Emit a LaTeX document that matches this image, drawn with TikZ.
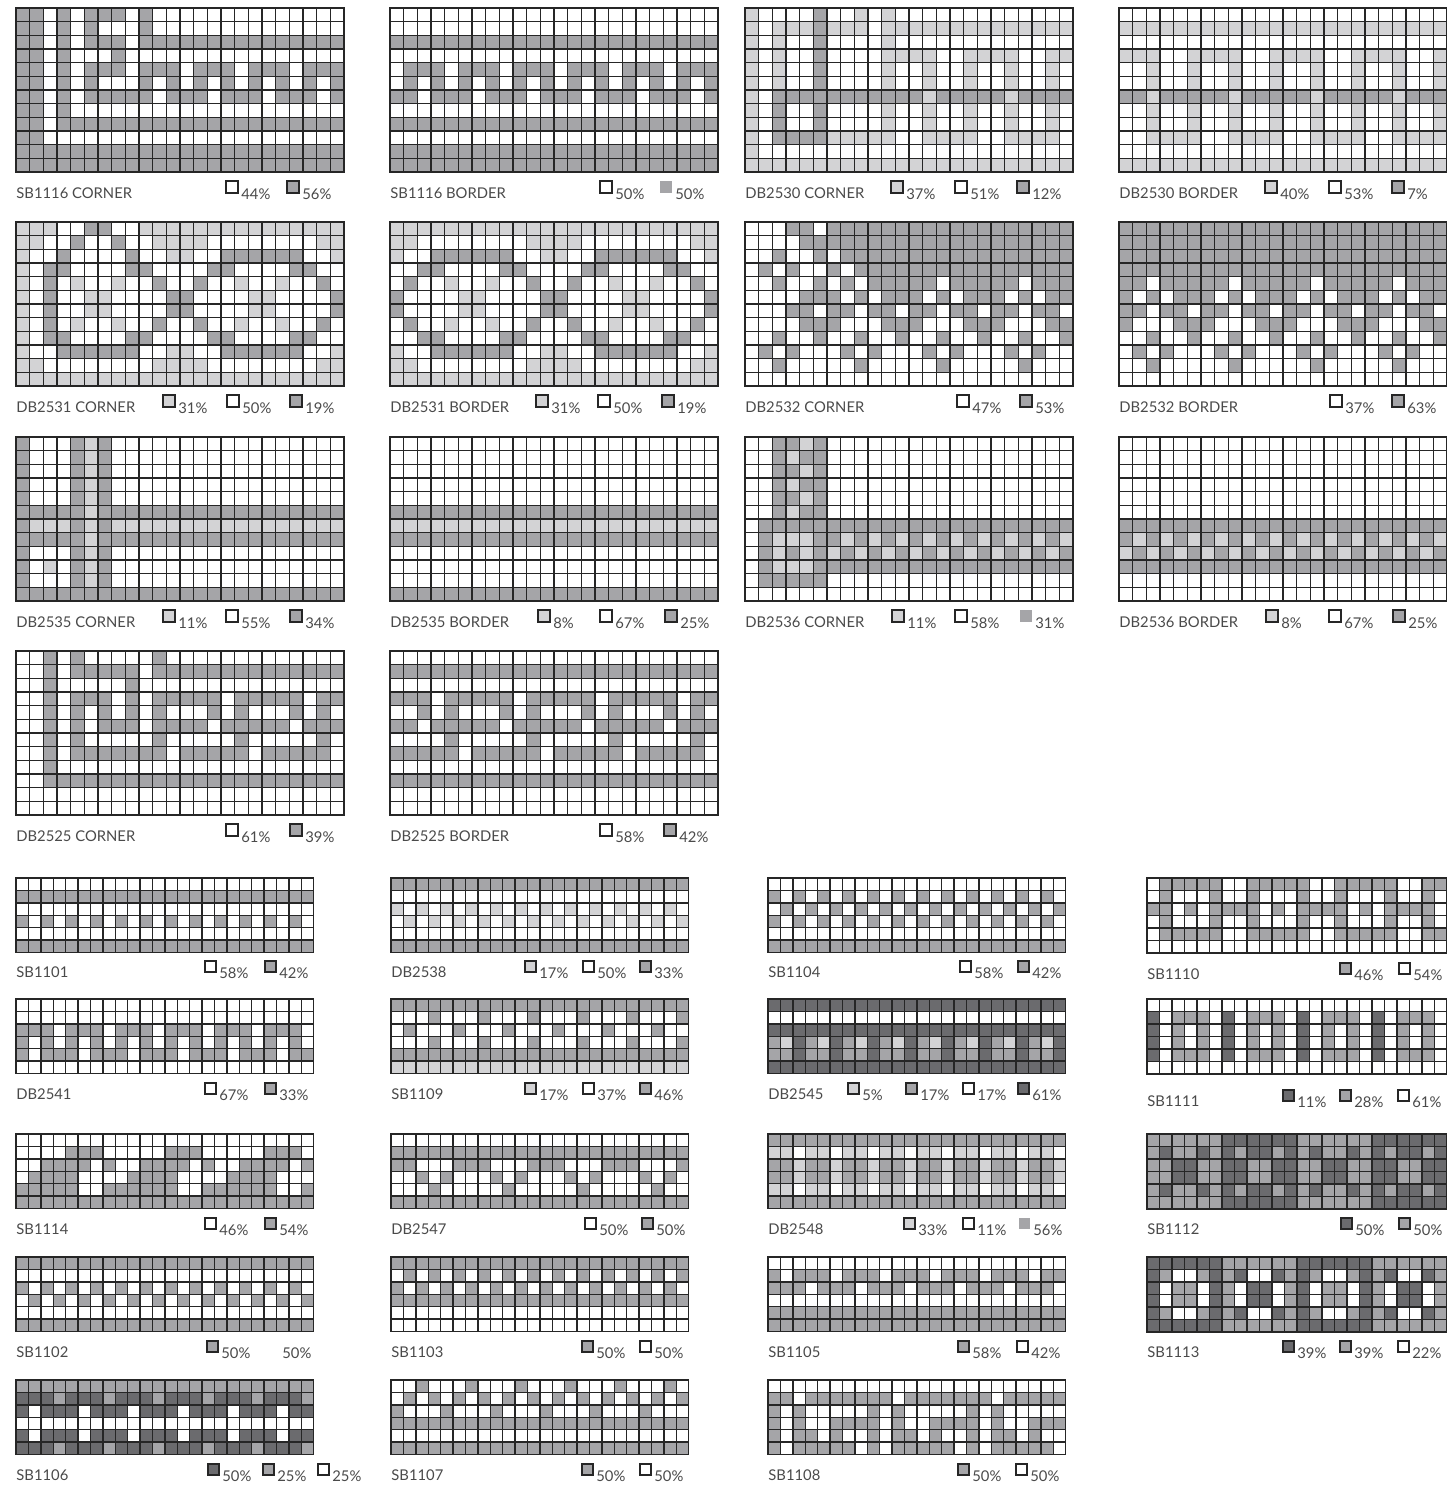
\documentclass[tikz,border=0pt]{standalone}
\usepackage{fontspec}
\setmainfont{Lato}
\definecolor{c0}{HTML}{FFFFFF}
\definecolor{c1}{HTML}{D3D3D5}
\definecolor{c2}{HTML}{A5A5A8}
\definecolor{c3}{HTML}{6B6B6E}
\definecolor{gline}{HTML}{262626}
\definecolor{txt}{HTML}{4A4A4A}
\newcount\gcol
\newcount\grow
\newcount\pcnt
\def\allW{000000000000000000000000}
\def\allL{111111111111111111111111}
\def\allM{222222222222222222222222}
\def\allD{333333333333333333333333}
\def\gparse#1{\ifx#1\relax\else
  \filldraw[cell,fill=c#1] ({\gx+\the\gcol*\gcs},{\gy+\the\grow*\gcs}) rectangle ++(\gcs,\gcs);%
  \global\advance\gcol by 1\relax
  \expandafter\gparse\fi}
\newcommand\pgrid[4]{\def\gx{#1}\def\gy{#2}\def\gcs{#3}\global\grow=0\relax
  \foreach \rr in {#4}{\global\gcol=0\relax\edef\rrx{\rr}\expandafter\gparse\rrx\relax\global\advance\grow by 1\relax}}
\newcommand\leg[6][]{\global\advance\pcnt by 1\relax
  \filldraw[lbox,fill=c#4,#1] (#2,#3-5) rectangle ++(#6,-#6);
  \node[pct] (p\the\pcnt) at (#2+#6+3,#3+1) {#5};}
\begin{document}
\begin{tikzpicture}[x=0.5pt,y=-0.5pt,
  cell/.style={draw=gline,line width=0.7pt},
  lbox/.style={draw=gline,line width=0.6pt},
  lab/.style={anchor=base west,inner sep=0pt,text=txt,font=\fontsize{7.4}{8}\selectfont},
  pct/.style={anchor=base west,inner sep=0pt,text=txt,font=\fontsize{7.4}{8}\selectfont}]
\useasboundingbox[fill=white] (0,0) rectangle (1447,1485);
% ---------------- row 1
\pgrid{16}{8}{13.667}{220202220200000000000000,220202000200000000000000,220202220222222222222222,220200020000000000000000,220202220222022202220222,220202000202020202020202,220202222202220222022202,220200000000000000000000,220222222222222222222222,220000000000000000000000,\allM,\allM}
\node[lab] (t1) at (16,198) {SB1116 CORNER};
\leg{226}{198}{0}{44\%}{12}\leg{287}{198}{2}{56\%}{12}
\pgrid{390}{8}{13.667}{\allW,\allW,\allM,\allW,022202220222022202220222,020202020202020202020202,220222022202220222022202,\allW,\allM,\allW,\allM,\allM}
\node[lab] (t2) at (390,198) {SB1116 BORDER};
\leg{600}{198}{0}{50\%}{12}\leg[draw=none]{660}{198}{2}{50\%}{12}
\pgrid{745}{8}{13.667}{100002001010000000000000,101112111011111111111111,101002000010000000000000,101002000011110011110011,101002000010010010010010,101002000010010010010010,102222222222212222212222,102002000010010010010010,102002000010010010010010,102222111110011110011110,100000000000000000000000,\allL}
\node[lab] (t3) at (745,198) {DB2530 CORNER};
\leg{891}{198}{1}{37\%}{12}\leg{955}{198}{0}{51\%}{12}\leg{1017}{198}{2}{12\%}{12}
\pgrid{1119}{8}{13.667}{\allW,\allL,\allW,111001111001111001111001,001001001001001001001001,001001001001001001001001,221222221222221222221222,001001001001001001001001,001001001001001001001001,001111001111001111001111,\allW,\allL}
\node[lab] (t4) at (1119,198) {DB2530 BORDER};
\leg{1265}{198}{1}{40\%}{12}\leg{1329}{198}{0}{53\%}{12}\leg{1392}{198}{2}{7\%}{12}
% ---------------- row 2
\pgrid{16}{222}{13.667}{111002200111111111111111,110020020011110000000011,100200002001100222222001,102200002200002200002200,102010010020020010010020,102001100002200001100002,102001100002200001100002,102010010020020010010020,102200002200002200002200,100222222001100222222001,110000000011110000000011,\allL}
\node[lab] (t5) at (16,412) {DB2531 CORNER};
\leg{163}{412}{1}{31\%}{12}\leg{227}{412}{0}{50\%}{12}\leg{290}{412}{2}{19\%}{12}
\pgrid{390}{222}{13.667}{\allL,110000000011110000000011,100222222001100222222001,002200002200002200002200,020010010020020010010020,200001100002200001100002,200001100002200001100002,020010010020020010010020,002200002200002200002200,100222222001100222222001,110000000011110000000011,\allL}
\node[lab] (t6) at (390,412) {DB2531 BORDER};
\leg{536}{412}{1}{31\%}{12}\leg{598}{412}{0}{50\%}{12}\leg{662}{412}{2}{19\%}{12}
\pgrid{745}{222}{13.667}{000220222222222222222222,000022222222222222222222,002002022222222222222222,020200202222222222222222,002002020222220222220222,000022202022202022202022,000220220220220220220220,000022200022200022200022,002002002002002002002002,020200020200020200020200,002000002000002000002000,\allW}
\node[lab] (t7) at (745,412) {DB2532 CORNER};
\leg{957}{412}{0}{47\%}{12}\leg{1020}{412}{2}{53\%}{12}
\pgrid{1119}{222}{13.667}{\allM,\allM,\allM,\allM,220222220222220222220222,202022202022202022202022,220220220220220220220220,200022200022200022200022,002002002002002002002002,020200020200020200020200,002000002000002000002000,\allW}
\node[lab] (t8) at (1119,412) {DB2532 BORDER};
\leg{1330}{412}{0}{37\%}{12}\leg{1392}{412}{2}{63\%}{12}
% ---------------- row 3
\pgrid{16}{437}{13.667}{200021200000000000000000,200021200000000000000000,200021200000000000000000,200021200000000000000000,200021200000000000000000,222221222222222222222222,211121211111111111111111,222221222222222222222222,200021200000000000000000,201021200000000000000000,200021200000000000000000,\allM}
\node[lab] (t9) at (16,627) {DB2535 CORNER};
\leg{163}{627}{1}{11\%}{12}\leg{226}{627}{0}{55\%}{12}\leg{290}{627}{2}{34\%}{12}
\pgrid{390}{437}{13.667}{\allW,\allW,\allW,\allW,\allW,\allM,\allL,\allM,\allW,\allW,\allW,\allM}
\node[lab] (t10) at (390,627) {DB2535 BORDER};
\leg{538}{627}{1}{8\%}{12}\leg{600}{627}{0}{67\%}{12}\leg{665}{627}{2}{25\%}{12}
\pgrid{745}{437}{13.667}{002212000000000000000000,002122000000000000000000,002212000000000000000000,002122000000000000000000,002212000000000000000000,002122000000000000000000,022222222222222222222222,021112212121212121212121,021212121212121212121212,021112222222222222222222,022222000000000000000000,\allW}
\node[lab] (t11) at (745,627) {DB2536 CORNER};
\leg{892}{627}{1}{11\%}{12}\leg{955}{627}{0}{58\%}{12}\leg[draw=none]{1020}{627}{2}{31\%}{12}
\pgrid{1119}{437}{13.667}{\allW,\allW,\allW,\allW,\allW,\allW,\allM,212121212121212121212121,121212121212121212121212,\allM,\allW,\allW}
\node[lab] (t12) at (1119,627) {DB2536 BORDER};
\leg{1266}{627}{1}{8\%}{12}\leg{1329}{627}{0}{67\%}{12}\leg{1393}{627}{2}{25\%}{12}
% ---------------- row 4
\pgrid{16}{651}{13.667}{002020000020000000000000,002022222022222222222222,002000002000000000000000,002022202022222022222022,002020202020002020002020,002020222022220222220222,002020000020000020000020,002022222220222220222220,002000000000000000000000,002222222222222222222222,\allW,\allW}
\node[lab] (t13) at (16,841) {DB2525 CORNER};
\leg{226}{841}{0}{61\%}{12}\leg{290}{841}{2}{39\%}{12}
\pgrid{390}{651}{13.667}{\allW,\allM,\allW,222022222022222022222022,002020002020002020002020,220222220222220222220222,000020000020000020000020,222220222220222220222220,\allW,\allM,\allW,\allW}
\node[lab] (t14) at (390,841) {DB2525 BORDER};
\leg{600}{841}{0}{58\%}{12}\leg{664}{841}{2}{42\%}{12}
% ---------------- small row 1
\pgrid{16}{878}{12.4}{\allW,\allM,\allW,202020202020202020202020,\allW,\allM}
\node[lab] (s1) at (16,977) {SB1101};
\leg{205}{977}{0}{58\%}{11}\leg{265}{977}{2}{42\%}{11}
\pgrid{391}{878}{12.4}{\allM,\allW,101010101010101010101010,010101010101010101010101,\allW,\allM}
\node[lab] (s2) at (391,977) {DB2538};
\leg{525}{977}{1}{17\%}{11}\leg{583}{977}{0}{50\%}{11}\leg{640}{977}{2}{33\%}{11}
\pgrid{768}{878}{12.4}{\allW,202020202020202020202020,020202020202020202020202,202020202020202020202020,\allW,\allM}
\node[lab] (s3) at (768,977) {SB1104};
\leg{960}{977}{0}{58\%}{11}\leg{1018}{977}{2}{42\%}{11}
\pgrid{1147}{878}{12.5}{022222002222200222220022,020002002000200200020020,220202222020222202022220,020002002000200200020020,022222002222200222220022,\allW}
\node[lab] (s4) at (1147,979) {SB1110};
\leg{1340}{979}{2}{46\%}{11}\leg{1399}{979}{0}{54\%}{11}
% ---------------- small row 2
\pgrid{16}{999}{12.4}{\allW,\allW,222022202220222022202220,202020202020202020202020,202220222022202220222022,\allW}
\node[lab] (s5) at (16,1099) {DB2541};
\leg{205}{1099}{0}{67\%}{11}\leg{265}{1099}{2}{33\%}{11}
\pgrid{391}{999}{12.4}{\allM,000200020002000200020002,020002000200020002000200,000200020002000200020002,\allM,\allL}
\node[lab] (s6) at (391,1099) {SB1109};
\leg{525}{1099}{1}{17\%}{11}\leg{583}{1099}{0}{37\%}{11}\leg{640}{1099}{2}{46\%}{11}
\pgrid{768}{999}{12.4}{\allD,\allW,\allD,213213213213213213213213,223223223223223223223223,\allD}
\node[lab] (s7) at (768,1099) {DB2545};
\leg{848}{1099}{1}{5\%}{11}\leg{906}{1099}{2}{17\%}{11}\leg{963}{1099}{0}{17\%}{11}\leg{1018}{1099}{3}{61\%}{11}
\pgrid{1147}{999}{12.5}{\allW,302220302220302220302220,302020302020302020302020,302020302020302020302020,302220302220302220302220,\allW}
\node[lab] (s8) at (1147,1106) {SB1111};
\leg{1283}{1106}{3}{11\%}{11}\leg{1340}{1106}{2}{28\%}{11}\leg{1398}{1106}{0}{61\%}{11}
% ---------------- small row 3
\pgrid{16}{1134}{12.4}{\allW,000022200000222000002220,002222020022220200222202,022220000222200002222000,222220022222200222222002,\allM}
\node[lab] (s9) at (16,1234) {SB1114};
\leg{205}{1234}{0}{46\%}{11}\leg{265}{1234}{2}{54\%}{11}
\pgrid{391}{1134}{12.4}{\allW,\allM,220002220002220002220002,002020002020002020002020,000200000200000200000200,\allM}
\node[lab] (s10) at (391,1234) {DB2547};
\leg{585}{1234}{0}{50\%}{11}\leg{642}{1234}{2}{50\%}{11}
\pgrid{768}{1134}{12.4}{\allM,110110110110110110110110,221221221221221221221221,221221221221221221221221,110110110110110110110110,\allM}
\node[lab] (s11) at (768,1234) {DB2548};
\leg{904}{1234}{1}{33\%}{11}\leg{963}{1234}{0}{11\%}{11}\leg[draw=none]{1019}{1234}{2}{56\%}{11}
\pgrid{1147}{1134}{12.5}{222222333333222222333333,232232323323232232323323,223322332233223322332233,223322332233223322332233,232232323323232232323323,222222333333222222333333}
\node[lab] (s12) at (1147,1234) {SB1112};
\leg{1341}{1234}{3}{50\%}{11}\leg{1399}{1234}{2}{50\%}{11}
% ---------------- small row 4
\pgrid{16}{1257}{12.4}{\allM,\allW,202020202020202020202020,020202020202020202020202,\allW,\allM}
\node[lab] (s13) at (16,1357) {SB1102};
\leg{207}{1357}{2}{50\%}{11}
\node[pct] (p0) at (282,1358) {50\%};
\pgrid{391}{1257}{12.4}{\allM,020202020202020202020202,202020202020202020202020,\allM,\allW,\allW}
\node[lab] (s14) at (391,1357) {SB1103};
\leg{582}{1357}{2}{50\%}{11}\leg{640}{1357}{0}{50\%}{11}
\pgrid{768}{1257}{12.4}{\allW,202220222022202220222022,222022202220222022202220,\allW,\allM,\allM}
\node[lab] (s15) at (768,1357) {SB1105};
\leg{958}{1357}{2}{58\%}{11}\leg{1017}{1357}{0}{42\%}{11}
\pgrid{1147}{1257}{12.5}{333333222222333333222222,320023230032320023230032,302203203302302203203302,302203203302302203203302,320023230032320023230032,333333222222333333222222}
\node[lab] (s16) at (1147,1357) {SB1113};
\leg{1283}{1357}{3}{39\%}{11}\leg{1340}{1357}{2}{39\%}{11}\leg{1398}{1357}{0}{22\%}{11}
% ---------------- small row 5
\pgrid{16}{1380}{12.4}{\allM,333233323332333233323332,303330333033303330333033,\allW,303330333033303330333033,333233323332333233323332}
\node[lab] (s17) at (16,1480) {SB1106};
\leg{208}{1480}{3}{50\%}{11}\leg{263}{1480}{2}{25\%}{11}\leg{318}{1480}{0}{25\%}{11}
\pgrid{391}{1380}{12.4}{002000200020002000200020,020202020202020202020202,200020002000200020002000,\allM,\allW,\allM}
\node[lab] (s18) at (391,1480) {SB1107};
\leg{582}{1480}{2}{50\%}{11}\leg{640}{1480}{0}{50\%}{11}
\pgrid{768}{1380}{12.4}{\allW,220222222202222222022222,202000002020000020200000,202002222020022220200222,202202002022020020220200,202222202022222020222220}
\node[lab] (s19) at (768,1480) {SB1108};
\leg{958}{1480}{2}{50\%}{11}\leg{1016}{1480}{0}{50\%}{11}
\end{tikzpicture}
\end{document}
